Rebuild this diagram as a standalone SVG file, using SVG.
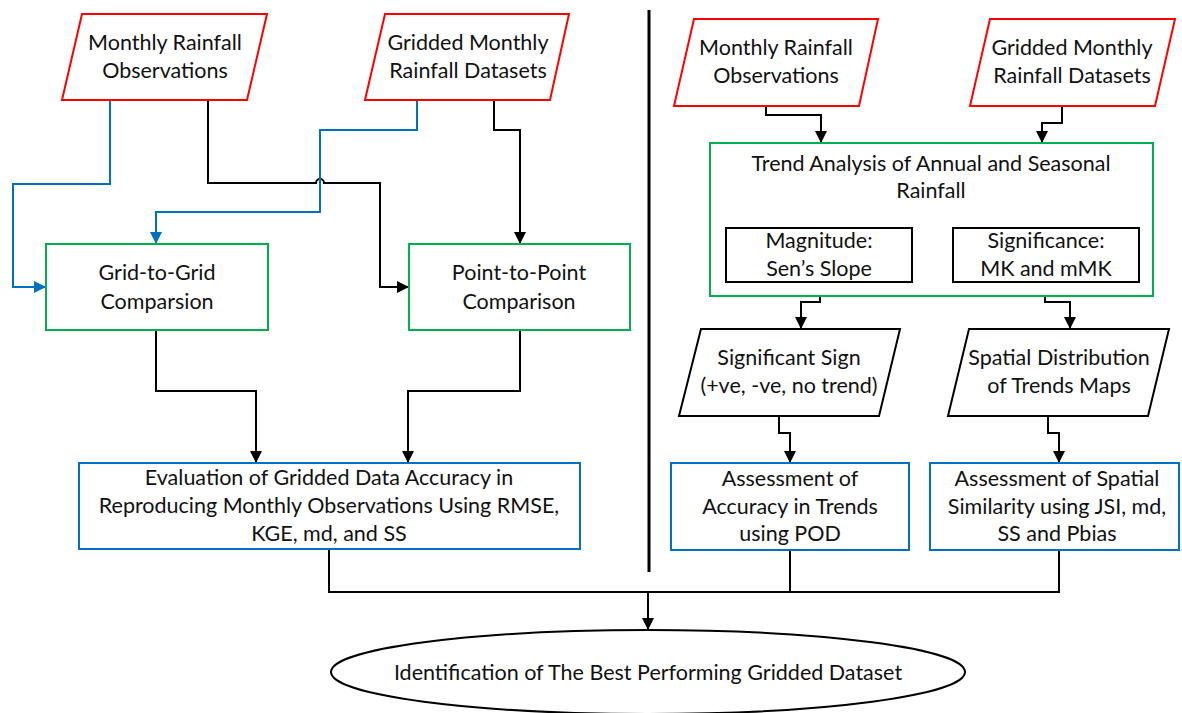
<svg xmlns="http://www.w3.org/2000/svg" width="1182" height="713" viewBox="0 0 1182 713">
<defs>
<style>
text{font-family:Lato,"Liberation Sans",sans-serif;font-size:21.5px;fill:#111;text-anchor:middle}
.red{fill:#fff;stroke:#ff0000;stroke-width:2}
.grn{fill:#fff;stroke:#00b050;stroke-width:2}
.blu{fill:#fff;stroke:#0070c0;stroke-width:2}
.blk{fill:#fff;stroke:#000;stroke-width:2}
.c{fill:none;stroke:#000;stroke-width:2}
.cb{fill:none;stroke:#0070c0;stroke-width:2}
</style>
<marker id="ak" markerUnits="userSpaceOnUse" markerWidth="12" markerHeight="14" refX="12" refY="6" orient="auto" viewBox="0 0 12 12"><path d="M0,0 L12,6 L0,12 z" fill="#000"/></marker>
<marker id="ab" markerUnits="userSpaceOnUse" markerWidth="12" markerHeight="14" refX="12" refY="6" orient="auto" viewBox="0 0 12 12"><path d="M0,0 L12,6 L0,12 z" fill="#0070c0"/></marker>
</defs>
<rect width="1182" height="713" fill="#fff"/>
<g id="connectors">
<path class="cb" d="M110,100 V184 H13 V287 H46" marker-end="url(#ab)"/>
<path class="c" d="M208,100 V183 H316 A4,4 0 0 1 324,183 H380 V287 H409" marker-end="url(#ak)"/>
<path class="cb" d="M417,100 V130 H320 V212 H156 V244" marker-end="url(#ab)"/>
<path class="c" d="M494,100 V130 H520 V244" marker-end="url(#ak)"/>
<path class="c" d="M156,330 V391 H256 V463" marker-end="url(#ak)"/>
<path class="c" d="M520,330 V391 H408 V463" marker-end="url(#ak)"/>
<path class="c" d="M329,549 V592 H1059 V550 M790,550 V592"/>
<path class="c" d="M648,592 V630" marker-end="url(#ak)"/>
<path class="c" d="M766,106 V115 H821 V143" marker-end="url(#ak)"/>
<path class="c" d="M1062,106 V123 H1042 V143" marker-end="url(#ak)"/>
<path class="c" d="M820,282 V302 H801 V329" marker-end="url(#ak)"/>
<path class="c" d="M1045,282 V302 H1070 V329" marker-end="url(#ak)"/>
<path class="c" d="M779,416 V433 H790 V463" marker-end="url(#ak)"/>
<path class="c" d="M1048,416 V433 H1059 V463" marker-end="url(#ak)"/>
<path d="M649,10 V572" stroke="#000" stroke-width="3" fill="none"/>
</g>
<g id="obs-left">
<polygon class="red" points="82,14 267,14 247,100 62,100"/>
<text x="165" y="50">Monthly Rainfall</text>
<text x="165" y="78">Observations</text>
</g>
<g id="grid-left">
<polygon class="red" points="385,14 569,14 550,100 365,100"/>
<text x="468" y="50">Gridded Monthly</text>
<text x="468" y="78">Rainfall Datasets</text>
</g>
<g id="g2g">
<rect class="grn" x="46" y="244" width="222" height="86"/>
<text x="157" y="280">Grid-to-Grid</text>
<text x="157" y="309">Comparsion</text>
</g>
<g id="p2p">
<rect class="grn" x="409" y="244" width="221" height="86"/>
<text x="519" y="280">Point-to-Point</text>
<text x="519" y="309">Comparison</text>
</g>
<g id="eval">
<rect class="blu" x="79" y="463" width="501" height="86"/>
<text x="329" y="485">Evaluation of Gridded Data Accuracy in</text>
<text x="329" y="513">Reproducing Monthly Observations Using RMSE,</text>
<text x="329" y="541">KGE, md, and SS</text>
</g>
<g id="obs-right">
<polygon class="red" points="694,19 878,19 859,106 674,106"/>
<text x="776" y="55">Monthly Rainfall</text>
<text x="776" y="83">Observations</text>
</g>
<g id="grid-right">
<polygon class="red" points="990,19 1175,19 1155,106 970,106"/>
<text x="1072" y="55">Gridded Monthly</text>
<text x="1072" y="83">Rainfall Datasets</text>
</g>
<g id="trend">
<rect class="grn" x="710" y="143" width="443" height="153"/>
<text x="931" y="171">Trend Analysis of Annual and Seasonal</text>
<text x="931" y="198">Rainfall</text>
</g>
<g id="magnitude">
<rect class="blk" x="726" y="228" width="186" height="54"/>
<text x="819" y="248">Magnitude:</text>
<text x="819" y="276">Sen’s Slope</text>
</g>
<g id="significance">
<rect class="blk" x="953" y="228" width="186" height="54"/>
<text x="1046" y="248">Significance:</text>
<text x="1046" y="276">MK and mMK</text>
</g>
<g id="sign">
<polygon class="blk" points="701,329 900,329 879,416 679,416"/>
<text x="789" y="365">Significant Sign</text>
<text x="789" y="393">(+ve, -ve, no trend)</text>
</g>
<g id="spatial">
<polygon class="blk" points="969,329 1169,329 1148,416 948,416"/>
<text x="1059" y="365">Spatial Distribution</text>
<text x="1059" y="393">of Trends Maps</text>
</g>
<g id="pod">
<rect class="blu" x="671" y="463" width="238" height="87"/>
<text x="790" y="486">Assessment of</text>
<text x="790" y="514">Accuracy in Trends</text>
<text x="790" y="541">using POD</text>
</g>
<g id="similarity">
<rect class="blu" x="930" y="463" width="249" height="87"/>
<text x="1057" y="486">Assessment of Spatial</text>
<text x="1057" y="514">Similarity using JSI, md,</text>
<text x="1057" y="541">SS and Pbias</text>
</g>
<g id="best">
<ellipse cx="648" cy="672" rx="317" ry="42" fill="#fff" stroke="#000" stroke-width="2"/>
<text x="648" y="680">Identification of The Best Performing Gridded Dataset</text>
</g>
</svg>
